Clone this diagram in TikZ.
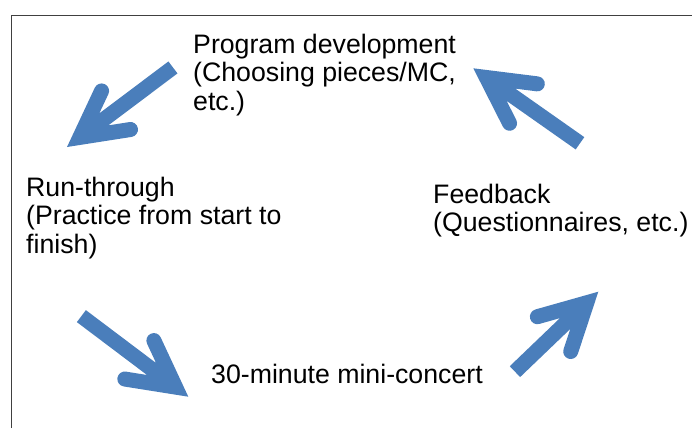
\documentclass[tikz,border=0pt]{standalone}
\usepackage{fontspec}
\setmainfont{Liberation Sans}

\definecolor{arrowblue}{RGB}{74,126,187}
\definecolor{framegray}{RGB}{64,64,64}

\tikzset{
  arrowfill/.style={fill=arrowblue},
  label/.style={anchor=base west, inner sep=0pt, align=left,
    font=\fontsize{26.7}{28.7}\selectfont},
  frameline/.style={draw=framegray, line width=1.8pt}
}

% Thick arrow with a sharp tip and round-ended barbs.
% #1 tip coordinate, #2 direction from tip to tail (degrees), #3 length
\newcommand\blockarrow[3]{%
  \begin{scope}[shift={(#1)}, rotate=#2, x=1pt, y=1pt]
    \fill[arrowfill] (0,0) -- (57.8,30.7)
      arc[start angle=118, end angle=-62, radius=7.5]
      -- (46,7.5) -- (#3,7.5) -- (#3,-7.5) -- (46,-7.5) -- (64.8,-17.5)
      arc[start angle=62, end angle=-118, radius=7.5]
      -- cycle;
  \end{scope}
}

\begin{document}
\begin{tikzpicture}[x=1pt, y=-1pt]
  \useasboundingbox (0,0) rectangle (692,428);

  % frame (left and top edges)
  \draw[frameline] (11.5,428) -- (11.5,15.5) -- (692,15.5);

  % stages of the cycle (anchored on the baseline of their last line)
  \node[label] (prog) at (193,110.4) {Program development\\(Choosing pieces/MC,\\etc.)};
  \node[label] (run) at (26,253.4) {Run-through\\(Practice from start to\\finish)};
  \node[label] (feed) at (433,231.7) {Feedback\\(Questionnaires, etc.)};
  \node[label] (concert) at (211,383) {30-minute mini-concert};

  % arrow tips
  \coordinate (a1tip) at (67,147);
  \coordinate (a2tip) at (473.3,68.3);
  \coordinate (a3tip) at (188.3,396.7);
  \coordinate (a4tip) at (598.3,291.7);

  \blockarrow{a1tip}{36.9}{132.5}
  \blockarrow{a2tip}{-35.1}{130.4}
  \blockarrow{a3tip}{143.0}{133.9}
  \blockarrow{a4tip}{-136.2}{115.5}
\end{tikzpicture}
\end{document}
